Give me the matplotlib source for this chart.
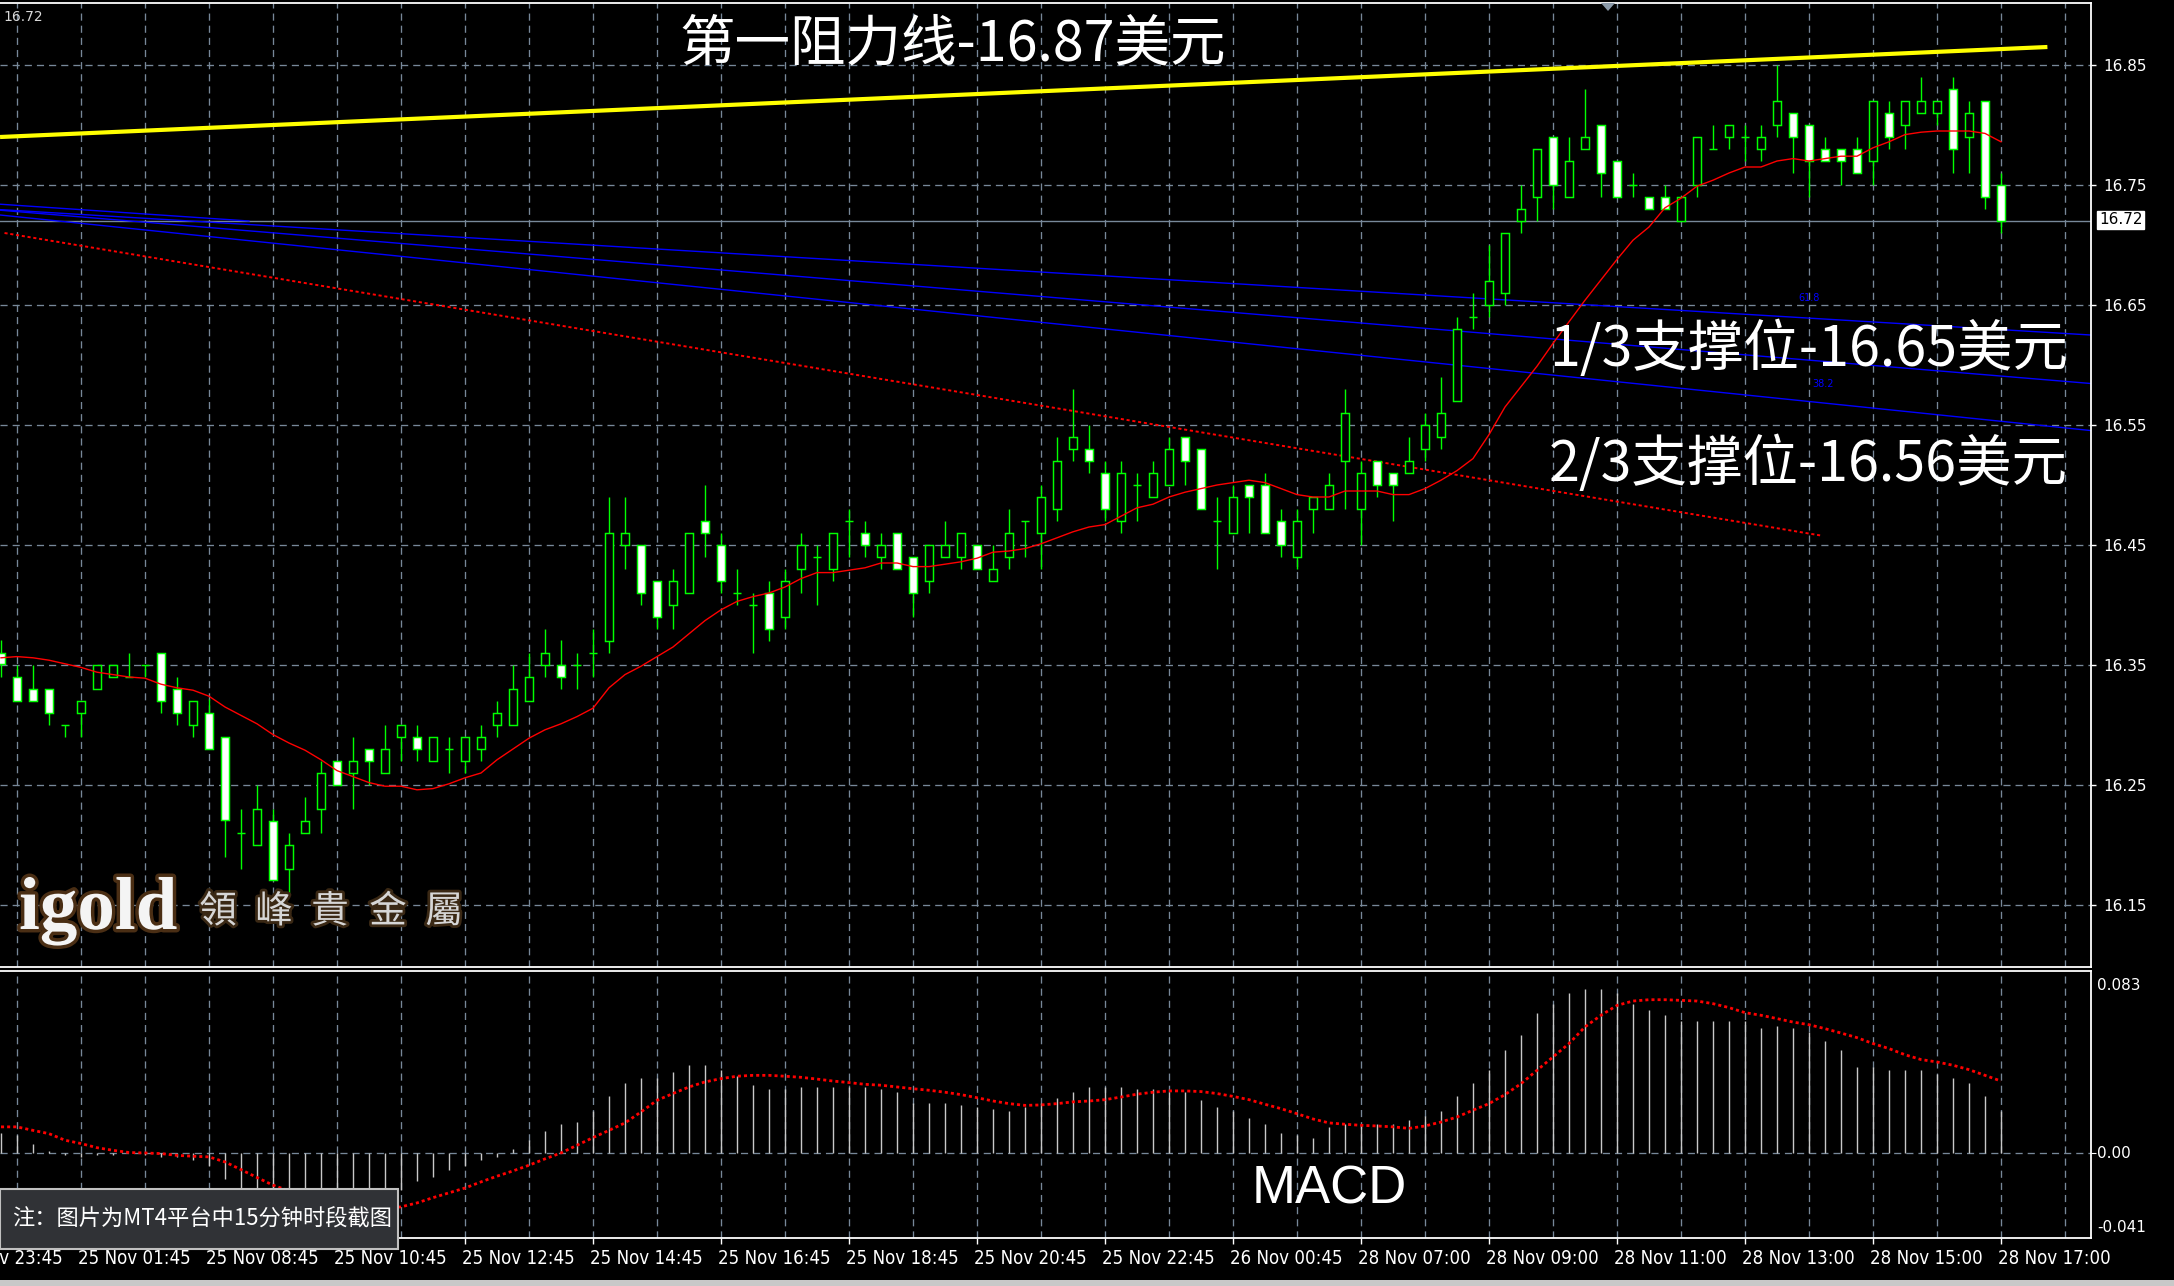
import matplotlib
matplotlib.use('Agg')
import matplotlib.pyplot as plt
import matplotlib.patheffects as pe
from matplotlib import font_manager
from matplotlib.font_manager import FontProperties
from matplotlib.patches import Rectangle, Polygon
from matplotlib.transforms import blended_transform_factory
import numpy as np

# 15 minute candles, oldest first
opens = [16.360, 16.340, 16.330, 16.330, 16.300, 16.310, 16.330, 16.340, 16.340, 16.350,
         16.360, 16.330, 16.300, 16.310, 16.290, 16.210, 16.200, 16.220, 16.180, 16.210,
         16.230, 16.270, 16.260, 16.280, 16.260, 16.290, 16.290, 16.270, 16.280, 16.270,
         16.280, 16.300, 16.300, 16.320, 16.350, 16.350, 16.350, 16.360, 16.370, 16.450,
         16.450, 16.420, 16.400, 16.410, 16.470, 16.450, 16.410, 16.400, 16.410, 16.390,
         16.430, 16.440, 16.430, 16.470, 16.460, 16.440, 16.460, 16.440, 16.420, 16.440,
         16.440, 16.450, 16.420, 16.440, 16.470, 16.460, 16.480, 16.530, 16.530, 16.510,
         16.470, 16.500, 16.490, 16.500, 16.540, 16.530, 16.470, 16.460, 16.500, 16.500,
         16.470, 16.440, 16.480, 16.480, 16.520, 16.480, 16.520, 16.510, 16.510, 16.530,
         16.540, 16.570, 16.640, 16.650, 16.660, 16.720, 16.740, 16.790, 16.740, 16.780,
         16.800, 16.770, 16.750, 16.740, 16.740, 16.720, 16.750, 16.780, 16.790, 16.790,
         16.780, 16.800, 16.810, 16.800, 16.780, 16.780, 16.780, 16.770, 16.810, 16.800,
         16.810, 16.810, 16.830, 16.790, 16.820, 16.750]
highs = [16.371, 16.350, 16.350, 16.330, 16.300, 16.320, 16.350, 16.350, 16.360, 16.350,
         16.360, 16.340, 16.320, 16.322, 16.290, 16.230, 16.250, 16.230, 16.210, 16.240,
         16.270, 16.270, 16.290, 16.280, 16.300, 16.300, 16.300, 16.290, 16.290, 16.290,
         16.300, 16.320, 16.350, 16.360, 16.380, 16.371, 16.360, 16.380, 16.490, 16.490,
         16.450, 16.420, 16.430, 16.460, 16.500, 16.460, 16.430, 16.410, 16.420, 16.430,
         16.460, 16.450, 16.460, 16.480, 16.470, 16.460, 16.460, 16.440, 16.450, 16.470,
         16.460, 16.450, 16.450, 16.480, 16.470, 16.500, 16.540, 16.580, 16.550, 16.520,
         16.520, 16.510, 16.520, 16.540, 16.540, 16.530, 16.490, 16.500, 16.500, 16.510,
         16.480, 16.480, 16.490, 16.510, 16.580, 16.520, 16.520, 16.510, 16.540, 16.560,
         16.590, 16.640, 16.660, 16.700, 16.710, 16.750, 16.780, 16.790, 16.790, 16.830,
         16.800, 16.770, 16.760, 16.740, 16.750, 16.740, 16.790, 16.800, 16.800, 16.800,
         16.800, 16.850, 16.810, 16.800, 16.790, 16.780, 16.790, 16.820, 16.820, 16.820,
         16.840, 16.820, 16.840, 16.820, 16.820, 16.760]
lows = [16.340, 16.320, 16.320, 16.300, 16.290, 16.290, 16.330, 16.340, 16.340, 16.340,
        16.310, 16.300, 16.290, 16.280, 16.190, 16.180, 16.200, 16.171, 16.160, 16.210,
        16.210, 16.250, 16.230, 16.250, 16.260, 16.270, 16.270, 16.270, 16.260, 16.260,
        16.270, 16.290, 16.300, 16.320, 16.340, 16.330, 16.330, 16.340, 16.360, 16.430,
        16.400, 16.380, 16.380, 16.410, 16.440, 16.410, 16.400, 16.360, 16.370, 16.380,
        16.410, 16.400, 16.420, 16.440, 16.440, 16.430, 16.430, 16.390, 16.410, 16.440,
        16.430, 16.430, 16.420, 16.430, 16.440, 16.430, 16.470, 16.520, 16.510, 16.470,
        16.460, 16.470, 16.490, 16.500, 16.500, 16.480, 16.430, 16.460, 16.460, 16.460,
        16.440, 16.430, 16.460, 16.480, 16.480, 16.450, 16.490, 16.470, 16.510, 16.520,
        16.530, 16.570, 16.630, 16.640, 16.650, 16.710, 16.720, 16.730, 16.740, 16.780,
        16.740, 16.740, 16.740, 16.730, 16.730, 16.720, 16.740, 16.780, 16.780, 16.770,
        16.770, 16.790, 16.760, 16.740, 16.770, 16.750, 16.760, 16.750, 16.780, 16.780,
        16.810, 16.800, 16.760, 16.760, 16.730, 16.710]
closes = [16.351, 16.320, 16.320, 16.310, 16.300, 16.320, 16.350, 16.350, 16.340, 16.350,
          16.320, 16.310, 16.320, 16.280, 16.221, 16.210, 16.230, 16.171, 16.200, 16.220,
          16.260, 16.250, 16.270, 16.270, 16.280, 16.300, 16.280, 16.290, 16.280, 16.290,
          16.290, 16.310, 16.330, 16.340, 16.360, 16.340, 16.350, 16.360, 16.460, 16.460,
          16.410, 16.390, 16.420, 16.460, 16.460, 16.420, 16.410, 16.400, 16.380, 16.420,
          16.450, 16.440, 16.460, 16.470, 16.450, 16.450, 16.430, 16.410, 16.450, 16.450,
          16.460, 16.430, 16.430, 16.460, 16.470, 16.490, 16.520, 16.540, 16.520, 16.480,
          16.510, 16.500, 16.510, 16.530, 16.520, 16.480, 16.470, 16.490, 16.490, 16.460,
          16.450, 16.470, 16.490, 16.500, 16.560, 16.510, 16.500, 16.500, 16.520, 16.550,
          16.560, 16.630, 16.640, 16.670, 16.710, 16.730, 16.780, 16.750, 16.770, 16.790,
          16.760, 16.740, 16.750, 16.730, 16.730, 16.740, 16.790, 16.780, 16.800, 16.790,
          16.790, 16.820, 16.790, 16.770, 16.770, 16.770, 16.760, 16.820, 16.790, 16.820,
          16.820, 16.820, 16.780, 16.810, 16.740, 16.720]
# red moving average
ma = [16.356, 16.357, 16.356, 16.354, 16.351, 16.348, 16.344, 16.342, 16.340, 16.339,
      16.334, 16.331, 16.329, 16.324, 16.315, 16.308, 16.301, 16.292, 16.285, 16.279,
      16.271, 16.262, 16.257, 16.252, 16.249, 16.249, 16.246, 16.247, 16.251, 16.256,
      16.260, 16.271, 16.280, 16.289, 16.296, 16.301, 16.307, 16.314, 16.331, 16.342,
      16.349, 16.357, 16.365, 16.376, 16.387, 16.396, 16.403, 16.407, 16.410, 16.415,
      16.422, 16.427, 16.427, 16.429, 16.431, 16.435, 16.435, 16.432, 16.432, 16.434,
      16.436, 16.439, 16.444, 16.445, 16.447, 16.451, 16.456, 16.461, 16.465, 16.467,
      16.474, 16.481, 16.484, 16.490, 16.494, 16.497, 16.500, 16.502, 16.504, 16.502,
      16.497, 16.492, 16.490, 16.490, 16.495, 16.495, 16.495, 16.492, 16.492, 16.497,
      16.504, 16.512, 16.522, 16.542, 16.565, 16.582, 16.599, 16.618, 16.636, 16.654,
      16.671, 16.688, 16.704, 16.715, 16.731, 16.739, 16.749, 16.754, 16.760, 16.765,
      16.765, 16.770, 16.772, 16.770, 16.772, 16.774, 16.774, 16.781, 16.786, 16.792,
      16.794, 16.795, 16.795, 16.795, 16.793, 16.786]
# MACD histogram and signal
macd_hist = [0.009, 0.008, 0.004, 0.001, -0.001, -0.002, -0.001, -0.001, 0.000, -0.001,
             -0.002, -0.002, -0.003, -0.006, -0.012, -0.016, -0.019, -0.023, -0.025, -0.026,
             -0.026, -0.025, -0.024, -0.022, -0.020, -0.017, -0.013, -0.011, -0.008, -0.006,
             -0.003, -0.002, 0.002, 0.006, 0.010, 0.013, 0.014, 0.019, 0.026, 0.032,
             0.034, 0.034, 0.037, 0.040, 0.040, 0.038, 0.035, 0.031, 0.029, 0.029,
             0.030, 0.030, 0.030, 0.030, 0.030, 0.029, 0.028, 0.023, 0.023, 0.023,
             0.022, 0.021, 0.020, 0.019, 0.021, 0.023, 0.025, 0.028, 0.030, 0.030,
             0.030, 0.029, 0.029, 0.028, 0.028, 0.024, 0.021, 0.019, 0.016, 0.013,
             0.009, 0.008, 0.007, 0.012, 0.013, 0.013, 0.013, 0.013, 0.015, 0.017,
             0.019, 0.026, 0.032, 0.038, 0.047, 0.054, 0.064, 0.068, 0.073, 0.075,
             0.075, 0.073, 0.068, 0.065, 0.063, 0.060, 0.060, 0.060, 0.060, 0.060,
             0.057, 0.058, 0.057, 0.055, 0.051, 0.047, 0.039, 0.039, 0.038, 0.038,
             0.038, 0.036, 0.034, 0.032, 0.026, 0.019]
macd_signal = [0.0119, 0.0119, 0.0103, 0.0088, 0.0058, 0.0043, 0.0024, 0.0012, 0.0002, 0.0,
               -0.0003, -0.0011, -0.0015, -0.0018, -0.0041, -0.0076, -0.0112, -0.0147, -0.0173, -0.0193,
               -0.0213, -0.0228, -0.0242, -0.0249, -0.0252, -0.0246, -0.0228, -0.0204, -0.0182, -0.0160,
               -0.0132, -0.0106, -0.0082, -0.0056, -0.0027, 0.0, 0.0035, 0.0070, 0.0103, 0.0137,
               0.0187, 0.0240, 0.0271, 0.0301, 0.0324, 0.0339, 0.0350, 0.0354, 0.0354, 0.0350,
               0.0345, 0.0337, 0.0328, 0.0321, 0.0313, 0.0309, 0.0301, 0.0293, 0.0286, 0.0277,
               0.0266, 0.0252, 0.0237, 0.0225, 0.0217, 0.0219, 0.0225, 0.0233, 0.0237, 0.0243,
               0.0255, 0.0268, 0.0277, 0.0283, 0.0283, 0.0280, 0.0271, 0.0258, 0.0243, 0.0222,
               0.0202, 0.0179, 0.0155, 0.0137, 0.0131, 0.0126, 0.0123, 0.0119, 0.0112, 0.0123,
               0.0141, 0.0164, 0.0195, 0.0225, 0.0266, 0.0316, 0.0377, 0.0438, 0.0499, 0.0575,
               0.0628, 0.0673, 0.0693, 0.0699, 0.0699, 0.0696, 0.0693, 0.0681, 0.0663, 0.0640,
               0.0628, 0.0613, 0.0597, 0.0585, 0.0567, 0.0547, 0.0526, 0.0499, 0.0476, 0.0448,
               0.0426, 0.0415, 0.0400, 0.0380, 0.0354, 0.0328]

time_labels = ['24 Nov 23:45', '25 Nov 01:45', '25 Nov 08:45', '25 Nov 10:45', '25 Nov 12:45',
               '25 Nov 14:45', '25 Nov 16:45', '25 Nov 18:45', '25 Nov 20:45', '25 Nov 22:45',
               '26 Nov 00:45', '28 Nov 07:00', '28 Nov 09:00', '28 Nov 11:00', '28 Nov 13:00',
               '28 Nov 15:00', '28 Nov 17:00']
price_ticks = [16.15, 16.25, 16.35, 16.45, 16.55, 16.65, 16.75, 16.85]
last_price = 16.72

# drawn objects: (bar, price) end points
resist_line = [(-0.06, 16.790), (127.9, 16.865)]
fibo_lines = [[(-0.06, 16.7295), (130.6, 16.625)],
              [(-0.06, 16.729), (130.6, 16.5846)],
              [(-0.06, 16.725), (130.6, 16.5454)],
              [(-0.06, 16.734), (15.5, 16.720)]]
red_trend = [(0.22, 16.710), (113.7, 16.458)]

W, H = 2174, 1286
def fx(px):
    return px / W
def fy(py):
    return 1 - py / H

# pick a condensed face for the time axis if one is installed
fl = font_manager.fontManager.ttflist
names = {f.name for f in fl}
if 'Liberation Sans Narrow' in names:
    tprop = FontProperties(family='Liberation Sans Narrow')
elif any(f.name == 'DejaVu Sans' and f.stretch == 'condensed' for f in fl):
    tprop = FontProperties(family='DejaVu Sans', stretch='condensed')
else:
    tprop = FontProperties(family='DejaVu Sans')
cjk = ['Noto Sans CJK SC', 'DejaVu Sans']
lime = '#00ff00'
gridc = '#778899'
dash = (0, (5.4, 3.8))

fig = plt.figure(figsize=(W / 100, H / 100), dpi=100, facecolor='black')
ax = fig.add_axes([0, fy(967), fx(2091), (967 - 3) / H])
mx = fig.add_axes([0, fy(1238), fx(2091), (1238 - 971) / H])

x = np.arange(len(opens))
o = np.array(opens)
c = np.array(closes)
xlim = (-0.0625, 130.625)
grid_x = np.arange(1, 131, 4)

for a in (ax, mx):
    a.set_facecolor('black')
    a.set_xlim(*xlim)
    for s in ('top', 'right', 'bottom'):
        a.spines[s].set_color('white')
        a.spines[s].set_linewidth(1.3)
    a.spines['left'].set_visible(False)

# main price panel
ax.set_ylim(16.09833, 16.90167)
ax.set_xticks(grid_x)
ax.tick_params(axis='x', length=0, labelbottom=False)
ax.set_yticks(price_ticks)
ax.set_yticklabels(['%.2f' % p for p in price_ticks])
ax.yaxis.tick_right()
ax.tick_params(axis='y', colors='white', labelcolor='white', length=3.6, width=1, pad=5, labelsize=11)
ax.grid(True, color=gridc, lw=0.95, ls=dash, zorder=0)
ax.set_axisbelow(True)

ax.axhline(last_price, color=gridc, lw=1.0, zorder=1)
ax.plot(*zip(*resist_line), color='#ffff00', lw=3.0, zorder=2, solid_capstyle='butt')
for ln in fibo_lines:
    ax.plot(*zip(*ln), color='#0000ff', lw=1.0, zorder=2)
ax.plot(*zip(*red_trend), color='#ff0000', lw=1.4, ls=(0, (1.6, 1.4)), zorder=2)
ax.text(113.0, 16.656, '61.8', color='#0000ff', fontsize=7, ha='center', va='center', zorder=2)
ax.text(113.9, 16.584, '38.2', color='#0000ff', fontsize=7, ha='center', va='center', zorder=2)

ax.vlines(x, lows, highs, color=lime, lw=1.0, zorder=3)
ax.bar(x, np.abs(c - o), bottom=np.minimum(o, c), width=0.52,
       color=np.where(c >= o, 'black', 'white'), edgecolor=lime, linewidth=1.05, zorder=4)
ax.plot(x, ma, color='#ff0000', lw=1.0, zorder=5)

# MACD panel
ymax = 0.083
ymin = -0.0388
mx.set_ylim(ymin, ymax)
mx.set_xticks(np.arange(5, 131, 8))
mx.set_xticks(grid_x, minor=True)
mx.tick_params(axis='x', which='major', colors='white', length=4, width=1, labelbottom=False)
mx.tick_params(axis='x', which='minor', length=0)
mx.grid(True, axis='x', which='both', color=gridc, lw=0.95, ls=dash, zorder=0)
mx.set_yticks([0])
mx.yaxis.tick_right()
mx.tick_params(axis='y', colors='white', length=3.6, labelright=False)
mx.axhline(0, color=gridc, lw=0.95, ls=dash, zorder=0)
mx.vlines(x, 0, macd_hist, color='#c8c8c8', lw=1.0, zorder=2)
mx.plot(x, macd_signal, color='#ff0000', lw=2.0, ls=(0, (1.1, 1.1)), zorder=3)

for txt, py in (('0.083', 985), ('0.00', 1153), ('-0.041', 1227)):
    fig.text(fx(2097), fy(py), txt, color='white', fontsize=11, va='center', ha='left')

# time labels below the MACD panel, sized so one label is about 113 px wide
renderer = fig.canvas.get_renderer()
probe = fig.text(0, 0, '25 Nov 01:45', fontproperties=tprop, fontsize=10)
tsize = 10 * 113 / probe.get_window_extent(renderer).width
probe.remove()
tr = blended_transform_factory(mx.transData, fig.transFigure)
for k, lbl in enumerate(time_labels):
    t = mx.text(-3 + 8 * k - 0.2, fy(1258), lbl, transform=tr, color='white',
                ha='left', va='center', clip_on=False)
    t.set_fontproperties(tprop)
    t.set_fontsize(tsize)

# current price box and corner label
fig.text(fx(2099), fy(220), '16.72', color='black', fontsize=11, va='center', ha='left',
         bbox=dict(boxstyle='square,pad=0.12', fc='white', ec='white'))
fig.text(fx(3), fy(17), '16.72', color='#d8d8d8', fontsize=10, va='center', ha='left')
fig.add_artist(Polygon([[fx(1601), fy(3)], [fx(1615), fy(3)], [fx(1608), fy(11)]],
                       closed=True, transform=fig.transFigure, fc='#8a99a8', ec='none'))
fig.add_artist(Rectangle((0, 0), 1, 6 / H, transform=fig.transFigure, fc='#c8c8c8', ec='none'))

# annotations
fig.text(fx(679), fy(45), '第一阻力线-16.87美元', color='white', fontsize=40, family=cjk,
         ha='left', va='center')
fig.text(fx(1549), fy(350), '1/3支撑位-16.65美元', color='white', fontsize=40, family=cjk,
         ha='left', va='center')
fig.text(fx(1549), fy(465), '2/3支撑位-16.56美元', color='white', fontsize=40, family=cjk,
         ha='left', va='center')
fig.text(fx(1252), fy(1189), 'MACD', color='white', fontsize=38,
         family=['Liberation Sans', 'DejaVu Sans'], ha='left', va='center')

# watermark
glow = [pe.withStroke(linewidth=5, foreground='#4a2e14')]
fig.text(fx(19), fy(929), 'igold', color='#f4f4f4', fontsize=54, fontweight='bold',
         family=['Liberation Serif', 'DejaVu Serif'], ha='left', va='baseline', path_effects=glow)
for ch, cx in zip('領峰貴金屬', (218, 274, 330, 388, 444)):
    fig.text(fx(cx), fy(912), ch, color='#d6d6d6', fontsize=27, family=['Noto Sans CJK TC', 'DejaVu Sans'],
             ha='center', va='center', path_effects=[pe.withStroke(linewidth=4, foreground='#3a2814')])

# note box
fig.add_artist(Rectangle((0, fy(1249)), fx(398), (1249 - 1189) / H, transform=fig.transFigure,
                         fc='#303236', ec='#c0c0c0', lw=1.5, zorder=10))
fig.text(fx(12), fy(1219), '注：图片为MT4平台中15分钟时段截图', color='white', fontsize=16, family=cjk,
         ha='left', va='center', zorder=11)

fig.savefig('out.png', dpi=100, facecolor='black')
